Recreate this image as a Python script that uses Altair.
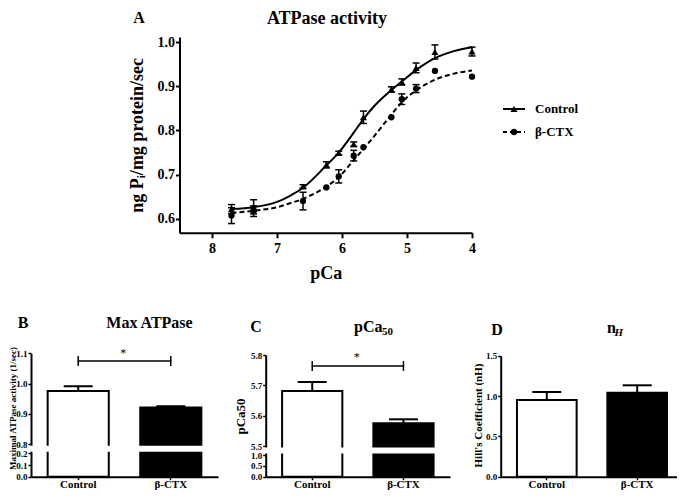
import altair as alt
import pandas as pd

W, H = 669, 483
FONT = "Liberation Serif"

# ---------------- Panel A: ATPase activity vs pCa ----------------
pca = [7.70, 7.36, 6.60, 6.24, 6.05, 5.82, 5.67, 5.24, 5.08, 4.86, 4.57, 4.00]
ctrl_mean = [0.622, 0.627, 0.673, 0.722, 0.749, 0.769, 0.830, 0.893, 0.910, 0.942, 0.978, 0.979]
ctrl_sem = [0.010, 0.016, 0.004, 0.007, 0.004, 0.005, 0.014, 0.006, 0.007, 0.011, 0.016, 0.010]
ctx_mean = [0.607, 0.617, 0.640, 0.671, 0.696, 0.743, 0.762, 0.830, 0.871, 0.895, 0.935, 0.922]
ctx_sem = [0.018, 0.012, 0.020, 0.000, 0.015, 0.012, 0.000, 0.000, 0.012, 0.009, 0.000, 0.000]

fit_pca = [7.70, 7.36, 7.00, 6.80, 6.60, 6.24, 6.05, 5.82, 5.67, 5.50, 5.24, 5.08, 4.86, 4.57, 4.28, 4.00]
ctrl_fit = [0.622, 0.626, 0.638, 0.652, 0.670, 0.721, 0.750, 0.795, 0.826, 0.856, 0.892, 0.911, 0.937, 0.964, 0.980, 0.989]
ctx_fit = [0.613, 0.618, 0.626, 0.635, 0.645, 0.673, 0.694, 0.733, 0.758, 0.788, 0.836, 0.864, 0.891, 0.915, 0.929, 0.936]

x_ticks_A = [8, 7, 6, 5, 4]
y_ticks_A = [0.6, 0.7, 0.8, 0.9, 1.0]

# ---------------- Panels B-D ----------------
groups = ["Control", "β-CTX"]
max_mean = [0.976, 0.921]
max_sem = [0.015, 0.0045]
p50_mean = [5.681, 5.575]
p50_sem = [0.030, 0.013]
nh_mean = [0.950, 1.042]
nh_sem = [0.100, 0.091]
y_ticks_B = [0.0, 0.1, 0.2, 0.8, 0.9, 1.0, 1.1]
y_ticks_C = [0.0, 0.5, 1.0, 5.5, 5.6, 5.7, 5.8]
y_ticks_D = [0.0, 0.5, 1.0, 1.5]

# ---------------- layout geometry (pixels) ----------------
A_X = [171.5, 464.0]
A_Y = [224.8, 29.0]
B_X = [23.0, 210.0]
C_X = [257.7, 442.0]
D_X = [492.7, 675.3]
BASE_Y = 468.7

dummy = pd.DataFrame({"d": [0]})

ax_common = dict(labelFont=FONT, labelFontWeight="bold", labelColor="black",
                 domainColor="black", tickColor="black", titleFont=FONT,
                 titleFontWeight="bold", titleColor="black", grid=False,
                 labelFlush=False)


def label(text, x, y, size, weight="bold", align="center", style="normal", baseline="alphabetic"):
    return alt.Chart(dummy).mark_text(
        text=text, font=FONT, fontSize=size, fontWeight=weight, fontStyle=style,
        align=align, baseline=baseline, color="black"
    ).encode(x=alt.value(x), y=alt.value(y))


# ---------------- Panel A ----------------
n = len(pca)
ptsA = pd.DataFrame({"pCa": pca + pca, "mean": ctrl_mean + ctx_mean,
                     "sem": ctrl_sem + ctx_sem,
                     "group": [groups[0]] * n + [groups[1]] * n})
ptsA["lo"] = ptsA["mean"] - ptsA["sem"]
ptsA["hi"] = ptsA["mean"] + ptsA["sem"]
errA = ptsA[ptsA["sem"] > 0]
m = len(fit_pca)
fitA = pd.DataFrame({"pCa": fit_pca + fit_pca, "fit": ctrl_fit + ctx_fit,
                     "group": [groups[0]] * m + [groups[1]] * m})

sxA = alt.Scale(domain=[8.5, 4.0], range=A_X, nice=False, zero=False)
syA = alt.Scale(domain=[0.568, 1.012], range=A_Y, nice=False, zero=False)

axAx = alt.Axis(orient="bottom", offset=A_Y[0] - H, values=x_ticks_A, format="d",
                title="pCa", titleFontSize=18, titleX=(A_X[0] + A_X[1]) / 2, titleY=46,
                titleBaseline="alphabetic", titleAlign="center", labelFontSize=14,
                labelPadding=4, tickSize=5, tickWidth=2, domainWidth=2, **ax_common)
axAy = alt.Axis(orient="left", offset=-A_X[0], values=y_ticks_A, format=".1f",
                title="ng Pᵢ/mg protein/sec", titleFontSize=18, titleAngle=270,
                titleX=-37.5, titleY=(A_Y[0] + A_Y[1]) / 2, titleBaseline="alphabetic",
                titleAlign="center", labelFontSize=14, labelPadding=1, tickSize=4,
                tickWidth=2, domainWidth=2, **ax_common)

layersA = [
    alt.Chart(fitA[fitA.group == groups[0]]).mark_line(
        color="black", strokeWidth=2, interpolate="monotone").encode(
        x=alt.X("pCa:Q", scale=sxA, axis=axAx),
        y=alt.Y("fit:Q", scale=syA, axis=axAy),
        order=alt.Order("pCa:Q", sort="descending")),
    alt.Chart(fitA[fitA.group == groups[1]]).mark_line(
        color="black", strokeWidth=2, strokeDash=[5, 3], interpolate="monotone").encode(
        x=alt.X("pCa:Q", scale=sxA, axis=None),
        y=alt.Y("fit:Q", scale=syA, axis=None),
        order=alt.Order("pCa:Q", sort="descending")),
    alt.Chart(errA).mark_rule(color="black", strokeWidth=1.5).encode(
        x=alt.X("pCa:Q", scale=sxA, axis=None),
        y=alt.Y("lo:Q", scale=syA, axis=None), y2="hi"),
    alt.Chart(errA).mark_tick(orient="horizontal", size=7, thickness=1.5,
                              color="black", opacity=1).encode(
        x=alt.X("pCa:Q", scale=sxA, axis=None), y=alt.Y("lo:Q", scale=syA, axis=None)),
    alt.Chart(errA).mark_tick(orient="horizontal", size=7, thickness=1.5,
                              color="black", opacity=1).encode(
        x=alt.X("pCa:Q", scale=sxA, axis=None), y=alt.Y("hi:Q", scale=syA, axis=None)),
    alt.Chart(ptsA[ptsA.group == groups[0]]).mark_point(
        shape="triangle-up", filled=True, size=50, color="black", opacity=1).encode(
        x=alt.X("pCa:Q", scale=sxA, axis=None), y=alt.Y("mean:Q", scale=syA, axis=None)),
    alt.Chart(ptsA[ptsA.group == groups[1]]).mark_point(
        shape="circle", filled=True, size=40, color="black", opacity=1).encode(
        x=alt.X("pCa:Q", scale=sxA, axis=None), y=alt.Y("mean:Q", scale=syA, axis=None)),
]


# ---------------- bar panels ----------------
def bar_panel(means, sems, ydom, yrng, yticks, xrng, ytitle, ytsize, ytx, yty,
              gap=None, bracket=None):
    df = pd.DataFrame({"group": groups, "mean": means, "sem": sems})
    df["top"] = df["mean"] + df["sem"]
    df["base"] = 0.0
    xs = alt.Scale(domain=groups, range=xrng, paddingInner=0.34, paddingOuter=0.18)
    ys = alt.Scale(domain=ydom, range=yrng, nice=False, zero=False)
    axx = alt.Axis(orient="bottom", offset=BASE_Y - H, title=None, labelAngle=0,
                   labelFontSize=11, labelPadding=-1.5, tickSize=3, tickWidth=1.5,
                   domainWidth=2, **ax_common)
    axy = alt.Axis(orient="left", offset=-xrng[0], values=yticks, format=".1f",
                   title=ytitle, titleFontSize=ytsize, titleAngle=270,
                   titleX=ytx - xrng[0], titleY=yty, titleBaseline="alphabetic",
                   titleAlign="center", labelFontSize=9, labelPadding=1, tickSize=3,
                   tickWidth=1.5, domainWidth=2, **ax_common)
    xn = alt.X("group:N", scale=xs, axis=None)
    layers = [
        alt.Chart(df).mark_bar(stroke="black", strokeWidth=2, opacity=1).encode(
            x=alt.X("group:N", scale=xs, axis=axx),
            y=alt.Y("mean:Q", scale=ys, axis=axy),
            y2="base",
            fill=alt.Fill("group:N", scale=alt.Scale(domain=groups, range=["white", "black"]),
                          legend=None)),
        alt.Chart(df).mark_rule(color="black", strokeWidth=2).encode(
            x=xn, y=alt.Y("mean:Q", scale=ys, axis=None), y2="top"),
        alt.Chart(df).mark_tick(orient="horizontal", size=29, thickness=2,
                                color="black", opacity=1).encode(
            x=xn, y=alt.Y("top:Q", scale=ys, axis=None)),
    ]
    if bracket is not None:
        dfb = pd.DataFrame({"group": groups, "lvl": [bracket, bracket]})
        layers.append(alt.Chart(dfb).mark_line(color="black", strokeWidth=1.5).encode(
            x=xn, y=alt.Y("lvl:Q", scale=ys, axis=None)))
        layers.append(alt.Chart(dfb).mark_tick(orient="vertical", size=10, thickness=1.5,
                                               color="black", opacity=1).encode(
            x=xn, y=alt.Y("lvl:Q", scale=ys, axis=None)))
    if gap is not None:
        dfg = pd.DataFrame({"lo": [gap[0]], "hi": [gap[1]]})
        layers.append(alt.Chart(dfg).mark_rect(color="white", opacity=1).encode(
            x=alt.value(xrng[0] - 4), x2=alt.value(gap[2]),
            y=alt.Y("lo:Q", scale=ys, axis=None), y2="hi"))
    return layers


layersB = bar_panel(max_mean, max_sem, [0.0, 0.2, 0.8, 1.1], [468.7, 445.3, 436.3, 345.3],
                    y_ticks_B, B_X, "Maximal ATPase activity  (1/sec)", 9, 7.5, 400,
                    gap=(0.3, 0.7, 200), bracket=1.075)
layersC = bar_panel(p50_mean, p50_sem, [0.0, 1.0, 5.5, 5.8], [468.7, 447.0, 438.0, 347.0],
                    y_ticks_C, C_X, "pCa50", 13, 236, 408,
                    gap=(1.75, 4.75, 432), bracket=5.764)
layersD = bar_panel(nh_mean, nh_sem, [0.0, 1.5], [468.7, 347.7],
                    y_ticks_D, D_X, "Hill's Coefficient  (nH)", 11, 473, 407)

# ---------------- titles, legend, stars ----------------
deco = [
    label("A", 131, 14.5, 16),
    label("ATPase activity", 319, 16, 18),
    label("B", 15, 320.3, 16),
    label("Max ATPase", 141.5, 320, 16),
    label("C", 248, 323.7, 16),
    label("pCa", 346, 323.5, 16, align="left"),
    label("50", 374, 326.5, 11, align="left"),
    label("D", 489, 327, 16),
    label("n", 599, 325.3, 16, align="left"),
    label("H", 606.5, 328, 11, align="left", style="italic"),
    label("*", 115.3, 349.4, 12, weight="normal"),
    label("*", 348.7, 352.7, 12, weight="normal"),
    label("Control", 527, 101, 13, align="left", baseline="middle"),
    label("β-CTX", 527, 124, 13, align="left", baseline="middle"),
    alt.Chart(dummy).mark_rule(color="black", strokeWidth=2).encode(
        x=alt.value(495), x2=alt.value(517), y=alt.value(101)),
    alt.Chart(dummy).mark_rule(color="black", strokeWidth=2, strokeDash=[4, 3]).encode(
        x=alt.value(495), x2=alt.value(517), y=alt.value(124)),
    alt.Chart(dummy).mark_point(shape="triangle-up", filled=True, size=50, color="black",
                                opacity=1).encode(x=alt.value(506), y=alt.value(101)),
    alt.Chart(dummy).mark_point(shape="circle", filled=True, size=40, color="black",
                                opacity=1).encode(x=alt.value(506), y=alt.value(124)),
]

chart = alt.layer(*layersA, *layersB, *layersC, *layersD, *deco).resolve_scale(
    x="independent", y="independent"
).properties(
    width=W, height=H, padding=0,
    autosize=alt.AutoSizeParams(type="none"),
    background="white",
).configure_view(stroke=None)

chart.save("out.html", embed_options={"renderer": "svg", "actions": False})
